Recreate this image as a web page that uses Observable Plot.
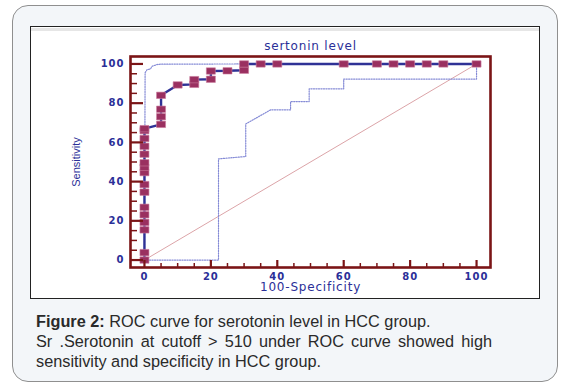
<!DOCTYPE html>
<html>
<head>
<meta charset="utf-8">
<script src="https://cdn.jsdelivr.net/npm/d3@7"></script>
<script src="https://cdn.jsdelivr.net/npm/@observablehq/plot@0.6"></script>
<style>
  html, body { margin: 0; padding: 0; background: #ffffff; }
  body { width: 563px; height: 388px; position: relative; overflow: hidden; }
  #card { position: absolute; left: 12px; top: 5px; width: 544px; height: 375px;
          border: 1.5px solid #8f8f8f; border-radius: 16px; background: #f3f6f9; }
  #img { position: absolute; left: 30px; top: 26px; width: 508px; height: 271px;
         border: 1px solid #222; background: #fff; }
  #strip { position: absolute; left: 0; top: 1px; width: 508px; height: 3px; background: #e6e6e6; }
  #chart { position: absolute; left: 0; top: 0; }
  #caption { position: absolute; left: 36px; top: 311px; width: 456px;
             font-family: "Liberation Sans", Arial, sans-serif; font-size: 16.3px;
             line-height: 20px; color: #2a2a2a; }
  #caption .l { display: block; white-space: nowrap; }
  #caption .j { display: block; text-align: justify; text-align-last: justify; }
</style>
</head>
<body>
<div id="card"></div>
<div id="img"><div id="strip"></div><div id="chart"></div></div>
<div id="caption">
  <span class="l"><b>Figure 2:</b> ROC curve for serotonin level in HCC group.</span>
  <span class="j">Sr .Serotonin at cutoff &gt; 510 under ROC curve showed high</span>
  <span class="l">sensitivity and specificity in HCC group.</span>
</div>
<script>
// ---- data ----
const title = "sertonin level";
const xLabel = "100-Specificity";
const yLabel = "Sensitivity";

const xTicks = [0, 20, 40, 60, 80, 100];
const yTicks = [0, 20, 40, 60, 80, 100];
const minorTicks = [5, 10, 15, 25, 30, 35, 45, 50, 55, 65, 70, 75, 85, 90, 95];

// ROC curve points (100-Specificity, Sensitivity)
const rocX = [0, 0, 0, 0, 0, 0, 0, 0, 0, 0, 0, 0, 0, 0, 0, 0,
              5, 5, 5, 5, 10, 15, 15, 20, 20, 25, 30, 30, 35, 40, 60, 70, 75, 80, 85, 90, 100];
const rocY = [0, 3.8, 15.4, 19.2, 23.1, 26.9, 34.6, 38.5, 44.6, 47.3, 49.6, 54, 58, 62, 66, 67,
              69.2, 73.1, 76.9, 84, 89.3, 89.6, 92, 92.2, 96.4, 96.5, 96.8, 100, 100, 100, 100, 100, 100, 100, 100, 100, 100];

// lower confidence bound
const lowX = [0, 22.3, 22.3, 30.5, 30.5, 38, 44, 44, 49.6, 49.6, 60, 60, 100, 100];
const lowY = [0, 0, 51.6, 52.8, 69.4, 76.6, 76.6, 80.8, 80.8, 87.3, 87.3, 92.3, 92.3, 100];

// upper confidence bound
const upX = [0, 0.2, 0.8, 1.8, 2.3, 3.8, 5, 30];
const upY = [0, 95.6, 97.1, 97.4, 98.8, 99.7, 99.9, 100];

// reference diagonal
const diagX = [0, 100];
const diagY = [0, 100];

// ---- build tables ----
const roc = rocX.map((x, i) => ({x, y: rocY[i]}));
const low = lowX.map((x, i) => ({x, y: lowY[i]}));
const up = upX.map((x, i) => ({x, y: upY[i]}));
const diag = diagX.map((x, i) => ({x, y: diagY[i]}));

const frameColor = "#7b1416";
const textBlue = "#2b2f98";
const rectSymbol = { draw(ctx) { ctx.rect(-4.5, -3.2, 9, 6.4); } };

const chart = Plot.plot({
  width: 508,
  height: 271,
  marginLeft: 99,
  marginRight: 49,
  marginTop: 29,
  marginBottom: 31,
  style: { fontFamily: "DejaVu Sans, Verdana, sans-serif", fontSize: "10px", background: "transparent", overflow: "visible" },
  x: { domain: [-4.2, 104.2] },
  y: { domain: [-3.8, 103.8] },
  marks: [
    Plot.line(diag, {x: "x", y: "y", stroke: "#dca4a8", strokeWidth: 1}),
    Plot.line(low, {x: "x", y: "y", stroke: "#858bd6", strokeWidth: 1.2, strokeDasharray: "1.2,1.3"}),
    Plot.line(up, {x: "x", y: "y", stroke: "#858bd6", strokeWidth: 1.2, strokeDasharray: "1.2,1.3"}),
    Plot.line(roc, {x: "x", y: "y", stroke: "#2f3296", strokeWidth: 2.4}),
    Plot.dot(roc, {x: "x", y: "y", symbol: rectSymbol, fill: "#9a3060", stroke: "#c97a9c", strokeWidth: 0.6}),
    // ticks (inward)
    Plot.axisY({ticks: yTicks, tickSize: -13, text: null, stroke: frameColor, strokeWidth: 2.2, label: null}),
    Plot.axisY({ticks: minorTicks, tickSize: -7, text: null, stroke: frameColor, strokeWidth: 1.5, label: null}),
    Plot.axisX({ticks: xTicks, tickSize: -7, text: null, stroke: frameColor, strokeWidth: 2.2, label: null}),
    Plot.axisX({ticks: minorTicks, tickSize: -4, text: null, stroke: frameColor, strokeWidth: 1.5, label: null}),
    // tick labels
    Plot.axisY({ticks: yTicks, tickSize: 0, tickPadding: 6, fill: textBlue, fontSize: 10, fontWeight: "bold", label: null}),
    Plot.axisX({ticks: xTicks, tickSize: 0, tickPadding: 5, fill: textBlue, fontSize: 10, fontWeight: "bold", label: null}),
    Plot.frame({stroke: frameColor, strokeWidth: 2.6}),
    // title and axis labels
    Plot.text([title], {text: d => d, frameAnchor: "top", dy: -10, fill: textBlue, fontSize: 12, textAnchor: "middle", lineAnchor: "middle"}),
    Plot.text([xLabel], {text: d => d, frameAnchor: "bottom", dy: 20, fill: textBlue, fontSize: 12, textAnchor: "middle", lineAnchor: "middle"}),
    Plot.text([yLabel], {text: d => d, frameAnchor: "left", dx: -54, rotate: -90, fill: textBlue, fontSize: 11, textAnchor: "middle",
                         fontFamily: "Liberation Sans Narrow, Liberation Sans, sans-serif", lineAnchor: "middle"})
  ]
});
// letter spacing on wide lettering, as in the reference
chart.querySelectorAll("text").forEach(t => {
  const s = t.textContent;
  if (/^\d+$/.test(s)) t.setAttribute("letter-spacing", "1");
  else if (s === title || s === xLabel) t.setAttribute("letter-spacing", "0.8");
});
document.getElementById("chart").appendChild(chart);
</script>
</body>
</html>
